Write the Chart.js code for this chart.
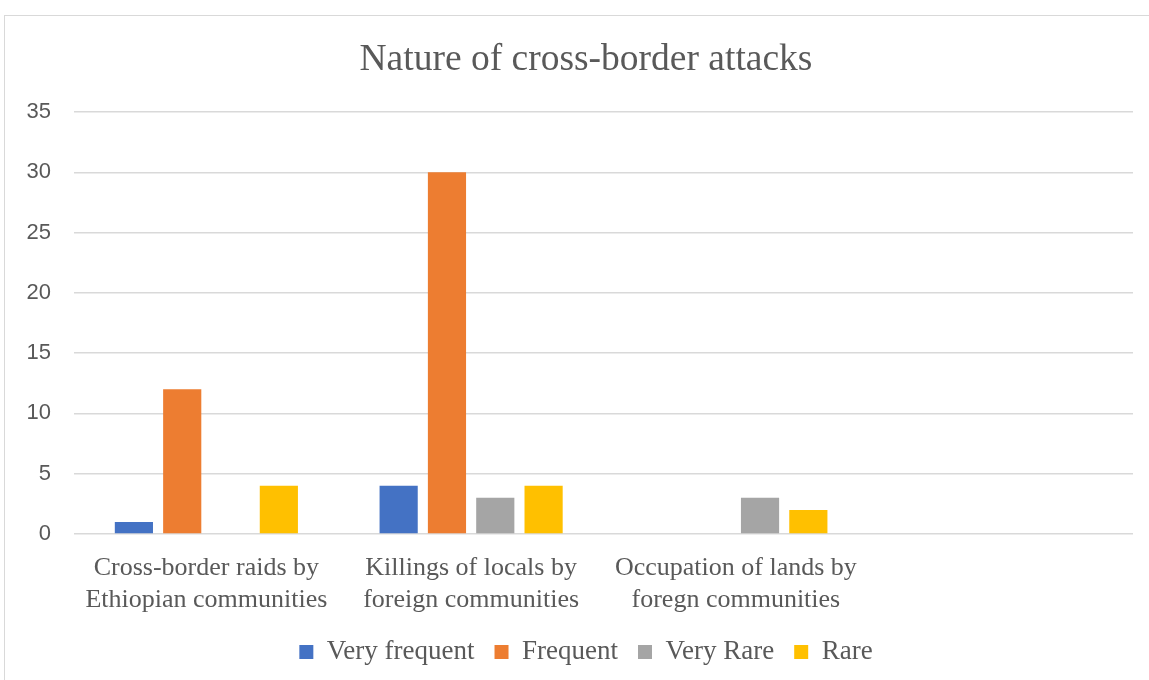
<!DOCTYPE html>
<html>
<head>
<meta charset="utf-8">
<script src="https://cdn.jsdelivr.net/npm/chart.js@4/dist/chart.umd.min.js"></script>
<style>
  html, body { margin: 0; padding: 0; background: #ffffff; overflow: hidden; }
  #frame {
    position: absolute; left: 4px; top: 15px; width: 1164px; height: 700px;
    border: 1.5px solid #d9d9d9; box-sizing: border-box;
  }
  #wrap { position: absolute; left: 0; top: 0; width: 1172px; height: 680px; }
</style>
</head>
<body>
<div id="frame"></div>
<div id="wrap"><canvas id="chart" width="1172" height="680"></canvas></div>
<script>
// Categories (the fourth slot is left empty on purpose)
const categories = [
  ['Cross-border raids by', 'Ethiopian communities'],
  ['Killings of locals by', 'foreign communities'],
  ['Occupation of lands by', 'foregn communities'],
  ''
];

// Responses per category
const veryFrequent = [1, 4, null, null];
const frequent     = [12, 30, null, null];
const veryRare     = [null, 3, 3, null];
const rare         = [4, 4, 2, null];

const seriesNames = ['Very frequent', 'Frequent', 'Very Rare', 'Rare'];
const seriesColors = ['#4472C4', '#ED7D31', '#A5A5A5', '#FFC000'];

const yMin = 0, yMax = 35, yStep = 5;

const textGray = '#595959';
const gridGray = '#d9d9d9';
const serif = "'Liberation Serif', 'Times New Roman', serif";
const sans = "'Liberation Sans', Arial, sans-serif";

const seriesValues = [veryFrequent, frequent, veryRare, rare];

new Chart(document.getElementById('chart'), {
  type: 'bar',
  data: {
    labels: categories,
    datasets: seriesValues.map((vals, i) => ({
      label: seriesNames[i],
      data: vals,
      backgroundColor: seriesColors[i],
      borderWidth: 0,
      categoryPercentage: 0.73,
      barPercentage: 0.79
    }))
  },
  options: {
    responsive: false,
    animation: false,
    devicePixelRatio: 1,
    layout: { padding: { left: 0, right: 0, top: 0, bottom: 4.5 } },
    plugins: {
      title: {
        display: true,
        text: 'Nature of cross-border attacks',
        color: textGray,
        font: { family: serif, size: 37.5, weight: 'normal', lineHeight: 1.2 },
        padding: { top: 37.5, bottom: 29.5 }
      },
      legend: {
        position: 'bottom',
        labels: {
          color: textGray,
          font: { family: serif, size: 27 },
          boxWidth: 14,
          boxHeight: 14,
          padding: 20
        }
      },
      tooltip: { enabled: false }
    },
    scales: {
      x: {
        grid: { display: false, drawTicks: false },
        border: { display: false },
        ticks: {
          color: textGray,
          font: { family: serif, size: 26, lineHeight: 1.23 },
          padding: 18,
          maxRotation: 0,
          autoSkip: false
        },
        afterFit: (s) => { s.height = 84.5; }
      },
      y: {
        min: yMin,
        max: yMax,
        ticks: {
          stepSize: yStep,
          color: textGray,
          font: { family: sans, size: 22 },
          padding: 23
        },
        grid: { color: gridGray, lineWidth: 1.5, drawTicks: false },
        border: { display: false },
        afterFit: (s) => { s.width = 74; }
      },
      // empty margin on the right side of the plot
      yRight: {
        position: 'right',
        display: true,
        ticks: { display: false },
        grid: { display: false, drawTicks: false },
        border: { display: false },
        afterFit: (s) => { s.width = 39; }
      }
    }
  }
});
</script>
</body>
</html>
